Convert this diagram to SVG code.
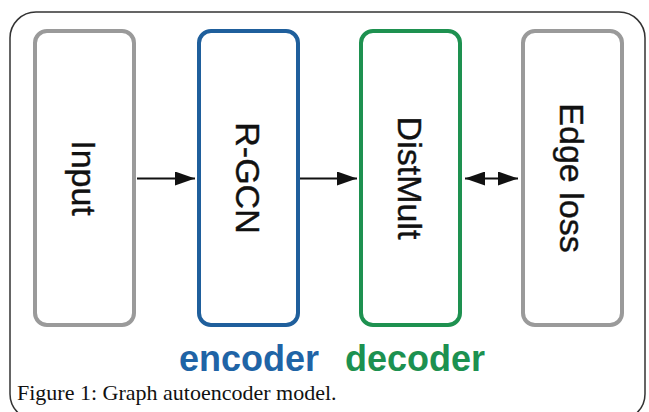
<svg xmlns="http://www.w3.org/2000/svg" width="649" height="412" viewBox="0 0 649 412">
<style>
.box{fill:#fff;stroke-width:4}
.gray{stroke:#9a9a9a}
.blue{stroke:#1f5f9c}
.green{stroke:#1e9150}
.lbl{font-family:"Liberation Sans",Arial,sans-serif;font-size:34px;fill:#111;text-anchor:middle;stroke:#111;stroke-width:0.4}
.tag{font-family:"Liberation Sans",Arial,sans-serif;font-size:36px;font-weight:bold;text-anchor:middle}
.cap{font-family:"Liberation Serif","Times New Roman",serif;font-size:22px;fill:#111}
.conn{stroke:#111;stroke-width:2;fill:none}
</style>
<defs>
<marker id="ahb" viewBox="0 0 20 14" refX="20" refY="7" markerWidth="20" markerHeight="14" markerUnits="userSpaceOnUse" orient="auto-start-reverse">
<path d="M0,0 L20,7 L0,14 z" fill="#111"/>
</marker>
</defs>
<rect x="10" y="12" width="635" height="408" rx="26" fill="#fff" stroke="#333" stroke-width="1.5"/>
<g id="input">
<rect class="box gray" x="35" y="31" width="99" height="294" rx="12"/>
<text class="lbl" transform="translate(84,178) rotate(90)" y="12">Input</text>
</g>
<g id="rgcn">
<rect class="box blue" x="199" y="31" width="99" height="294" rx="12"/>
<text class="lbl" transform="translate(248,178) rotate(90)" y="12">R-GCN</text>
</g>
<g id="distmult">
<rect class="box green" x="361" y="31" width="99" height="294" rx="12"/>
<text class="lbl" transform="translate(410,178) rotate(90)" y="12">DistMult</text>
</g>
<g id="edgeloss">
<rect class="box gray" x="523" y="31" width="99" height="294" rx="12"/>
<text class="lbl" transform="translate(572,178) rotate(90)" y="12">Edge loss</text>
</g>
<g id="connectors">
<line class="conn" x1="137" y1="178.5" x2="195" y2="178.5" marker-end="url(#ahb)"/>
<line class="conn" x1="300" y1="178.5" x2="357" y2="178.5" marker-end="url(#ahb)"/>
<line class="conn" x1="465" y1="178.5" x2="518" y2="178.5" marker-start="url(#ahb)" marker-end="url(#ahb)"/>
</g>
<text class="tag" x="249" y="371" fill="#1f64a6">encoder</text>
<text class="tag" x="415" y="371" fill="#1c9150">decoder</text>
<text class="cap" x="17" y="400">Figure 1: Graph autoencoder model.</text>
</svg>
